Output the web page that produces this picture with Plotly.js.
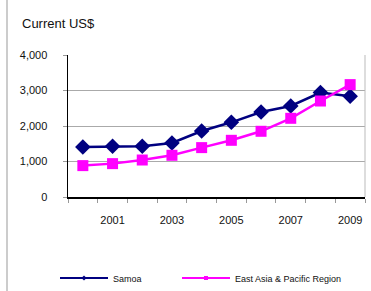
<!DOCTYPE html>
<html><head><meta charset="utf-8">
<script src="https://cdn.plot.ly/plotly-3.0.1.min.js"></script>
<style>html,body{margin:0;padding:0;background:#fff}#c{width:371px;height:291px}</style>
</head><body><div id="c"></div>
<script>
const years = ["2000","2001","2002","2003","2004","2005","2006","2007","2008","2009"];
const tickLabels = ["","2001","","2003","","2005","","2007","","2009"];
const samoa = [1408,1428,1428,1521,1859,2104,2394,2563,2941,2837];
const eap = [884,940,1042,1175,1391,1597,1851,2217,2704,3166];
const seriesNames = ["Samoa","East Asia & Pacific Region"];
const colors = ["#000080","#FF00FF"];

const font = "Liberation Sans, Arial, sans-serif";
const traces = [
  {x: years, y: samoa, type:"scatter", mode:"lines+markers", name: seriesNames[0], showlegend:false,
   line:{color:colors[0], width:2.5}, marker:{symbol:"diamond", size:12, color:colors[0]}},
  {x: years, y: eap, type:"scatter", mode:"lines+markers", name: seriesNames[1], showlegend:false,
   line:{color:colors[1], width:2.5}, marker:{symbol:"square", size:11, color:colors[1]}},
  {x:[null], y:[null], type:"scatter", mode:"lines+markers", name: seriesNames[0], legend:"legend",
   line:{color:colors[0], width:2}, marker:{symbol:"diamond", size:4, color:colors[0]}},
  {x:[null], y:[null], type:"scatter", mode:"lines+markers", name: seriesNames[1], legend:"legend2",
   line:{color:colors[1], width:2}, marker:{symbol:"square", size:4, color:colors[1]}}
];
const legendBase = {orientation:"h", xanchor:"left", y:-(278-197)/142, yanchor:"middle", itemwidth:48,
          font:{family:font, size:9, color:"#111"}, bgcolor:"rgba(0,0,0,0)"};
const layout = {
  width:371, height:291,
  margin:{l:68, r:6, t:55, b:94, autoexpand:false},
  paper_bgcolor:"#fff", plot_bgcolor:"#fff",
  font:{family:font, color:"#111", size:11},
  title:{text:"Current US$", x:22/371, xref:"container", xanchor:"left", y:1-23/291, yref:"container", yanchor:"middle",
         font:{family:font, size:13, color:"#111"}},
  xaxis:{type:"category", categoryorder:"array", categoryarray:years, range:[-0.5,9.5],
         tickmode:"array", tickvals:years, ticktext:tickLabels, tickson:"boundaries", tickangle:0,
         ticks:"outside", ticklen:4, tickcolor:"#999", showgrid:false, showline:true, linecolor:"#000", linewidth:1.5,
         zeroline:false, ticklabelstandoff:12, tickfont:{family:font, size:11, color:"#111"}, fixedrange:true, automargin:false},
  yaxis:{range:[0,4000], tickmode:"linear", tick0:0, dtick:1000, tickformat:",d",
         showgrid:true, gridcolor:"#aaa", gridwidth:1, showline:true, linecolor:"#000", linewidth:1.5,
         ticks:"outside", ticklen:4, tickcolor:"#999", zeroline:false, ticklabelstandoff:13,
         tickfont:{family:font, size:11, color:"#111"}, fixedrange:true, automargin:false},
  showlegend:true,
  legend:Object.assign({}, legendBase, {x:(55-68)/297}),
  legend2:Object.assign({}, legendBase, {x:(177-68)/297}),
  shapes:[
    {type:"line", xref:"paper", yref:"paper", x0:(7-68)/297, x1:(7-68)/297, y0:-1, y1:2, line:{color:"#999", width:1}},
    {type:"line", xref:"paper", yref:"paper", x0:1, x1:1, y0:0, y1:1, line:{color:"#bbb", width:1}}
  ]
};
Plotly.newPlot("c", traces, layout, {displayModeBar:false, staticPlot:true});
</script></body></html>
